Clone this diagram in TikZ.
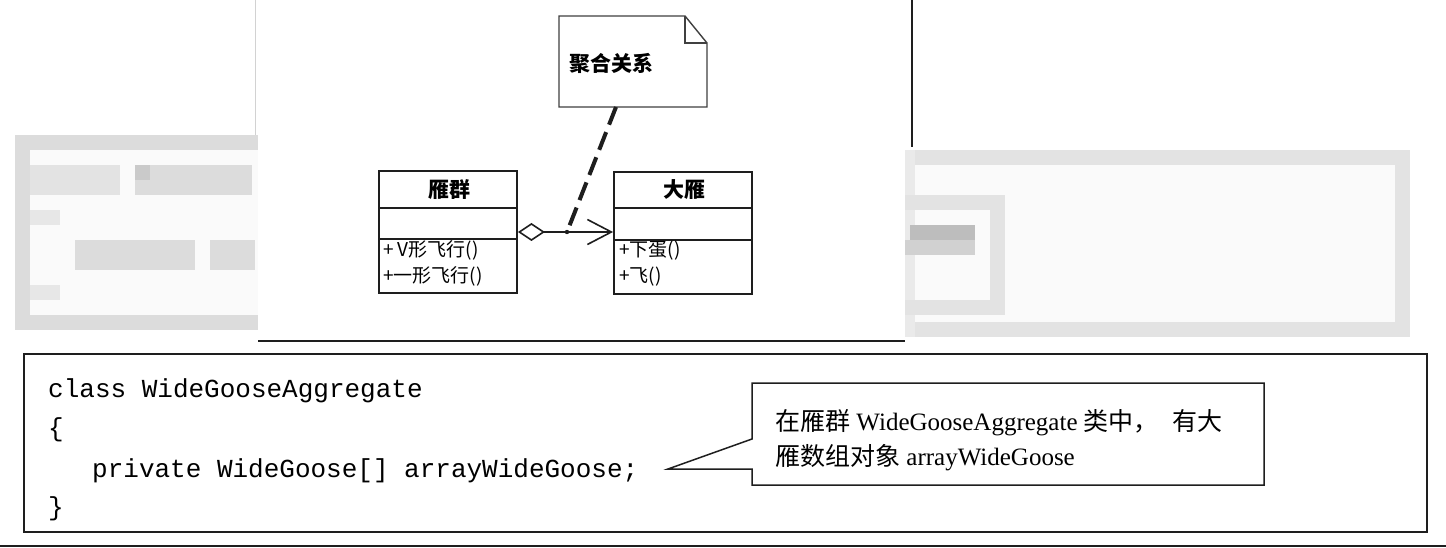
\documentclass[tikz,border=0pt]{standalone}
\usepackage{fontspec}
\setmainfont{Liberation Serif}
\setmonofont{Liberation Mono}
\newfontfamily\cjk{Noto Sans CJK SC}
\usetikzlibrary{arrows.meta}
\definecolor{redact}{HTML}{DCDCDC}
\definecolor{redactdark}{HTML}{BDBDBD}
\definecolor{redactfill}{HTML}{FAFAFA}
\definecolor{ink}{HTML}{1E1E1E}
\tikzset{
  classbox/.style={draw=ink, line width=1.8pt, minimum width=138pt, minimum height=122pt, inner sep=0pt},
  divider/.style={draw=ink, line width=1.8pt},
  titletext/.style={font=\cjk\bfseries\fontsize{21}{23}\selectfont, inner sep=0pt},
  optext/.style={font=\cjk\fontsize{19}{21}\selectfont, inner sep=0pt, anchor=base west},
  codetext/.style={font=\ttfamily\fontsize{26}{28}\selectfont, inner sep=0pt, anchor=base west},
  calltext/.style={font=\fontsize{25}{27}\selectfont, inner sep=0pt, anchor=base west},
  frameline/.style={draw=ink, line width=1.2pt},
  notebox/.style={draw=ink!85, line width=1.4pt, fill=white},
  aggline/.style={draw=ink, line width=1.6pt, {Diamond[open, length=27pt, width=18pt, line width=1.6pt]}-{Straight Barb[length=24pt, width=25pt, line width=1.6pt]}},
  notelink/.style={draw=ink, line width=4pt, dash pattern=on 19pt off 8pt}
}
\begin{document}
\begin{tikzpicture}[x=1pt, y=-1pt]
\useasboundingbox (0,0) rectangle (1446,548);
\fill[white] (0,0) rectangle (1446,548);

% ---- redaction blocks (as seen in the picture) ----
\fill[redactfill] (15,135) rectangle (258,330);
\fill[redact] (15,135) rectangle (258,150);
\fill[redact] (15,135) rectangle (30,330);
\fill[redact] (15,315) rectangle (258,330);
\fill[redact!80] (30,165) rectangle (120,195);
\fill[redact] (135,165) rectangle (252,195);
\fill[redactdark!80] (135,165) rectangle (150,180);
\fill[redact!70] (30,210) rectangle (60,225);
\fill[redact] (75,240) rectangle (195,270);
\fill[redact] (210,240) rectangle (255,270);
\fill[redact!70] (30,285) rectangle (60,300);

\fill[redactfill] (905,150) rectangle (1410,337);
\fill[redact!80] (905,150) rectangle (1410,165);
\fill[redact!80] (1395,150) rectangle (1410,337);
\fill[redact!80] (905,322) rectangle (1410,337);
\fill[redact!60] (905,150) rectangle (915,337);
\fill[redact!80] (905,195) rectangle (1005,210);
\fill[redact!80] (990,195) rectangle (1005,315);
\fill[redact!80] (905,300) rectangle (1005,315);
\fill[redactdark] (910,225) rectangle (975,240);
\fill[redactdark!70] (905,240) rectangle (975,255);

% ---- frame lines ----
\draw[gray!35] (255,0) -- (255,135);
\draw[frameline] (912,0) -- (912,147);
\draw[frameline] (258,341) -- (905,341);
\draw[frameline] (0,546) -- (1446,546);

% ---- UML classes ----
\node[classbox] (A) at (448,232) {};
\draw[divider] (A.west |- 0,208) -- (A.east |- 0,208);
\draw[divider] (A.west |- 0,239) -- (A.east |- 0,239);
\node[titletext] (Atitle) at (449,190) {雁群};
\node[optext] (Aop1) at (383,257) {+ V形飞行()};
\node[optext] (Aop2) at (383,282) {+一形飞行()};

\node[classbox] (B) at (683,233) {};
\draw[divider] (B.west |- 0,208) -- (B.east |- 0,208);
\draw[divider] (B.west |- 0,240) -- (B.east |- 0,240);
\node[titletext] (Btitle) at (684,190) {大雁};
\node[optext] (Bop1) at (619,257) {+下蛋()};
\node[optext] (Bop2) at (619,282) {+飞()};

\draw[aggline] (A.east |- 0,232) -- (B.west |- 0,232);
\coordinate (J) at (567,232);
\fill[ink] (J) circle (2.2pt);

% ---- note ----
\coordinate (N1) at (559,16);
\coordinate (N2) at (685,16);
\coordinate (N3) at (707,43);
\coordinate (N4) at (707,107);
\coordinate (N5) at (559,107);
\draw[notebox] (N1) -- (N2) -- (N3) -- (N4) -- (N5) -- cycle;
\draw[draw=ink!85, line width=1.4pt] (N2) -- (685,43) -- (N3);
\node[font=\cjk\bfseries\fontsize{21}{23}\selectfont, inner sep=0pt, anchor=west] (Ntext) at (569,63) {聚合关系};
\coordinate (Nbot) at (616,107);
\draw[notelink] (Nbot) -- (J);

% ---- code box ----
\draw[draw=ink, line width=1.8pt] (24,354) rectangle (1427,532);
\node[codetext] (c1) at (48,397) {class WideGooseAggregate};
\node[codetext] (c2) at (48,436) {\{};
\node[codetext] (c3) at (92,477) {private WideGoose[] arrayWideGoose;};
\node[codetext] (c4) at (48,515) {\}};

% ---- callout ----
\coordinate (tip) at (668,469);
\draw[draw=ink, line width=1.5pt, fill=white] (752,383) -- (1264,383) -- (1264,485) -- (752,485) -- (752,469) -- (tip) -- (752,439) -- cycle;
\node[calltext] (t1) at (775,430) {{\cjk 在雁群}\ WideGooseAggregate\ {\cjk 类中，}\hspace{14pt}{\cjk 有大}};
\node[calltext] (t2) at (775,465) {{\cjk 雁数组对象}\ arrayWideGoose};
\end{tikzpicture}
\end{document}
